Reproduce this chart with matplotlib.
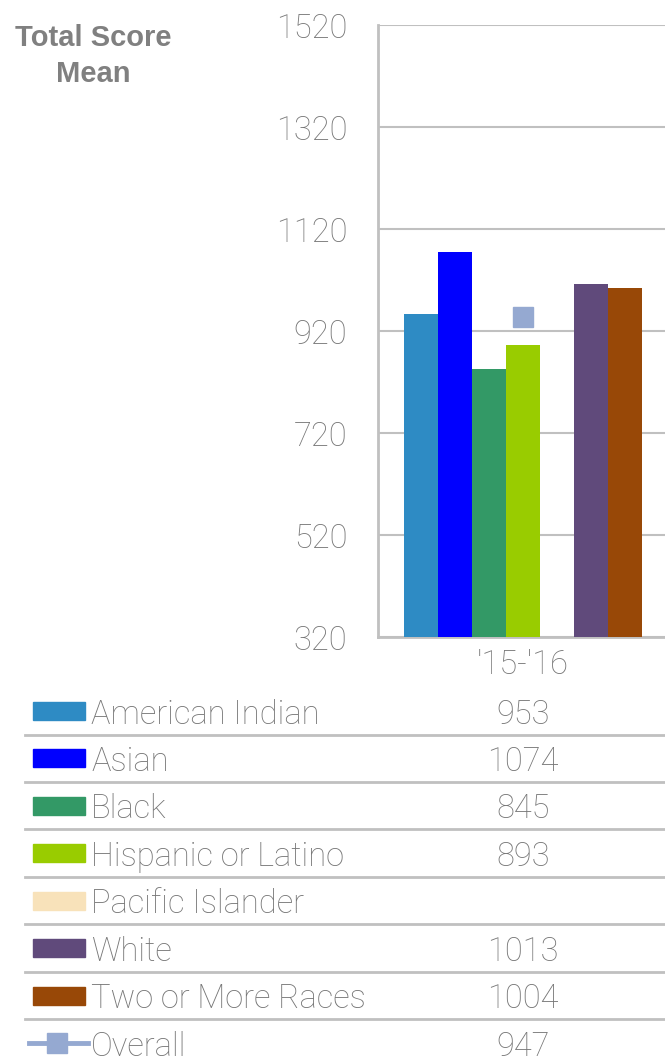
import numpy as np
import matplotlib
matplotlib.use("Agg")
import matplotlib.pyplot as plt
from matplotlib.patches import Rectangle
from matplotlib.lines import Line2D

plt.rcParams['font.family'] = ['Roboto', 'DejaVu Sans']

categories = ["'15-'16"]
groups = ["American Indian", "Asian", "Black", "Hispanic or Latino",
          "Pacific Islander", "White", "Two or More Races"]
values = [953, 1074, 845, 893, np.nan, 1013, 1004]
colors = ["#2E8BC4", "#0000FF", "#339966", "#99CC00", "#F8E2BA", "#604A7B", "#984807"]
overall_label = "Overall"
overall_value = 947
overall_color = "#95A9D1"
yticks = [320, 520, 720, 920, 1120, 1320, 1520]

TXT = "#767676"
GRID = "#C0C0C0"
FS = 23.5
FW = 'light'
W, H = 665, 1059
fig = plt.figure(figsize=(W / 100, H / 100), dpi=100)

ax = fig.add_axes([378 / W, (H - 637) / H, 290 / W, 612 / H])
ax.set_xlim(-0.5, 0.5)
ax.set_ylim(yticks[0], yticks[-1])
bw = 34 / 290
n = len(groups)
for i, (v, c) in enumerate(zip(values, colors)):
    if not np.isnan(v):
        ax.bar((i - (n - 1) / 2) * bw, v - yticks[0], bottom=yticks[0],
               width=bw, color=c, zorder=3, linewidth=0)
ax.plot([0], [overall_value], marker='s', markersize=15, color=overall_color,
        linestyle='none', zorder=4)

ax.set_yticks(yticks)
ax.set_yticklabels([str(t) for t in yticks])
ax.set_xticks([0])
ax.set_xticklabels(categories)
ax.tick_params(axis='both', length=0, labelsize=FS, labelcolor=TXT)
ax.tick_params(axis='y', pad=22)
ax.tick_params(axis='x', pad=9)
for lab in ax.get_xticklabels() + ax.get_yticklabels():
    lab.set_fontweight(FW)
ax.yaxis.grid(True, color=GRID, linewidth=1.5, zorder=0)
ax.set_axisbelow(True)
for s in ['top', 'right']:
    ax.spines[s].set_visible(False)
for s in ['left', 'bottom']:
    ax.spines[s].set_color(GRID)
    ax.spines[s].set_linewidth(2)

# Title
tfam = ['Liberation Sans', 'DejaVu Sans']
fig.text(93 / W, 1 - 38 / H, "Total Score", ha='center', va='center',
         fontsize=21, fontweight='bold', color="#808080", family=tfam)
fig.text(93 / W, 1 - 74 / H, "Mean", ha='center', va='center',
         fontsize=21, fontweight='bold', color="#808080", family=tfam)

# Data table
row0 = 711
step = 47.43
labels = groups + [overall_label]
vals = values + [overall_value]
for i, (lab, v) in enumerate(zip(labels, vals)):
    yc = row0 + i * step
    yf = 1 - yc / H
    if i < n:
        fig.patches.append(Rectangle((33 / W, 1 - (yc + 9) / H), 52 / W, 18 / H,
                                     transform=fig.transFigure, color=colors[i]))
    else:
        fig.lines.append(Line2D([29 / W, 88 / W], [yf, yf], transform=fig.transFigure,
                                color=overall_color, linewidth=3.5))
        fig.lines.append(Line2D([57 / W], [yf], transform=fig.transFigure,
                                color=overall_color, marker='s', markersize=14,
                                linestyle='none'))
    fig.text(91 / W, yf, lab, ha='left', va='center_baseline', fontsize=FS,
             fontweight=FW, color=TXT)
    if not (isinstance(v, float) and np.isnan(v)):
        fig.text(523 / W, yf, str(int(v)), ha='center', va='center_baseline',
                 fontsize=FS, fontweight=FW, color=TXT)
    if i < n:
        yl = 1 - (yc + 23.5) / H
        fig.lines.append(Line2D([25 / W, 1], [yl, yl], transform=fig.transFigure,
                                color=GRID, linewidth=2))

fig.savefig("out.png", dpi=100)
